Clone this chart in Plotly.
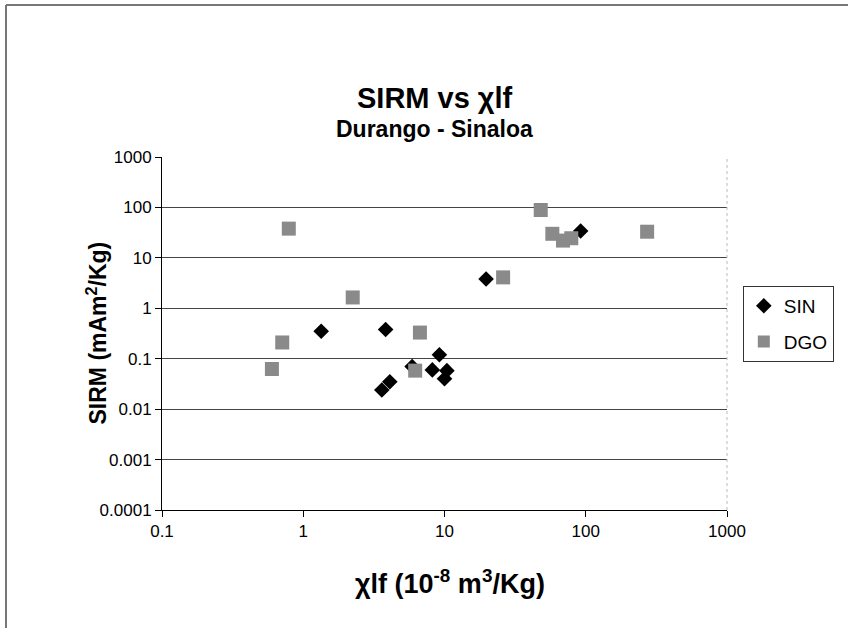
import plotly.graph_objects as go

# SIN series (chi-lf, SIRM)
sin_x = [1.34, 3.83, 19.7, 92, 5.9, 3.6, 4.1, 9.2, 8.2, 10.4, 10.0]
sin_y = [0.35, 0.38, 3.8, 34, 0.07, 0.024, 0.035, 0.12, 0.06, 0.058, 0.040]
# DGO series
dgo_x = [0.79, 2.24, 6.7, 0.71, 48, 58, 69, 79, 272, 26, 0.60, 6.2]
dgo_y = [38, 1.64, 0.33, 0.21, 89, 30, 22, 24.5, 33, 4.1, 0.0625, 0.058]

x_ticks = [0.1, 1, 10, 100, 1000]
x_labels = ["0.1", "1", "10", "100", "1000"]
y_ticks = [0.0001, 0.001, 0.01, 0.1, 1, 10, 100, 1000]
y_labels = ["0.0001", "0.001", "0.01", "0.1", "1", "10", "100", "1000"]

FONT = "Liberation Sans, Arial, sans-serif"

fig = go.Figure()
fig.add_trace(go.Scatter(x=sin_x, y=sin_y, mode="markers", name="SIN",
                         legendgroup="sin",
                         marker=dict(symbol="diamond", size=12, color="black",
                                     line=dict(width=0))))
fig.add_trace(go.Scatter(x=dgo_x, y=dgo_y, mode="markers", name="DGO",
                         legendgroup="dgo",
                         marker=dict(symbol="square", size=14, color="#8a8a8a",
                                     line=dict(width=0))))

fig.update_layout(
    width=848, height=628,
    margin=dict(l=162, r=121, t=157, b=118),
    paper_bgcolor="white", plot_bgcolor="white",
    font=dict(family=FONT, color="black", size=17),
    showlegend=True,
    legend=dict(x=1.028, y=0.635, xanchor="left", yanchor="top",
                bordercolor="#333", borderwidth=1, bgcolor="white",
                font=dict(family=FONT, size=19), itemsizing="constant",
                traceorder="grouped", tracegroupgap=8, itemwidth=30),
    xaxis=dict(type="log", range=[-1, 3], tickvals=x_ticks, ticktext=x_labels,
               showgrid=False, showline=True, linecolor="black", linewidth=1,
               ticks="outside", ticklen=6, tickcolor="black", zeroline=False,
               tickfont=dict(family=FONT, size=17)),
    yaxis=dict(type="log", range=[-4, 3], tickvals=y_ticks, ticktext=y_labels,
               showgrid=True, gridcolor="#444", gridwidth=1,
               showline=True, linecolor="black", linewidth=1,
               ticks="outside", ticklen=6, tickcolor="black", zeroline=False,
               tickfont=dict(family=FONT, size=17)),
    annotations=[
        dict(text="<b>SIRM vs χlf</b>", xref="paper", yref="paper",
             x=0.483, y=(510 - 98) / 353, xanchor="center", yanchor="middle",
             showarrow=False, font=dict(family=FONT, size=29)),
        dict(text="<b>Durango - Sinaloa</b>", xref="paper", yref="paper",
             x=0.483, y=(510 - 129) / 353, xanchor="center", yanchor="middle",
             showarrow=False, font=dict(family=FONT, size=23)),
        dict(text="<b>SIRM (mAm<sup>2</sup>/Kg)</b>", xref="paper", yref="paper",
             x=(96 - 162) / 565, y=0.5, xanchor="center", yanchor="middle",
             textangle=-90, showarrow=False, font=dict(family=FONT, size=23)),
        dict(text="<b>χlf (10<sup>-8</sup> m<sup>3</sup>/Kg)</b>", xref="paper", yref="paper",
             x=(450 - 162) / 565, y=(510 - 582) / 353, xanchor="center", yanchor="middle",
             showarrow=False, font=dict(family=FONT, size=27)),
    ],
    shapes=[
        dict(type="line", xref="paper", yref="paper", x0=1, x1=1, y0=0, y1=1,
             line=dict(color="#bbb", width=1, dash="dot")),
        dict(type="line", xref="paper", yref="paper",
             x0=(6 - 162) / 565, x1=(848 - 162) / 565,
             y0=(510 - 5) / 353, y1=(510 - 5) / 353,
             line=dict(color="#777", width=2)),
        dict(type="line", xref="paper", yref="paper",
             x0=(6 - 162) / 565, x1=(6 - 162) / 565,
             y0=(510 - 5) / 353, y1=(510 - 628) / 353,
             line=dict(color="#777", width=2)),
    ],
)

fig.write_html("out.html")
